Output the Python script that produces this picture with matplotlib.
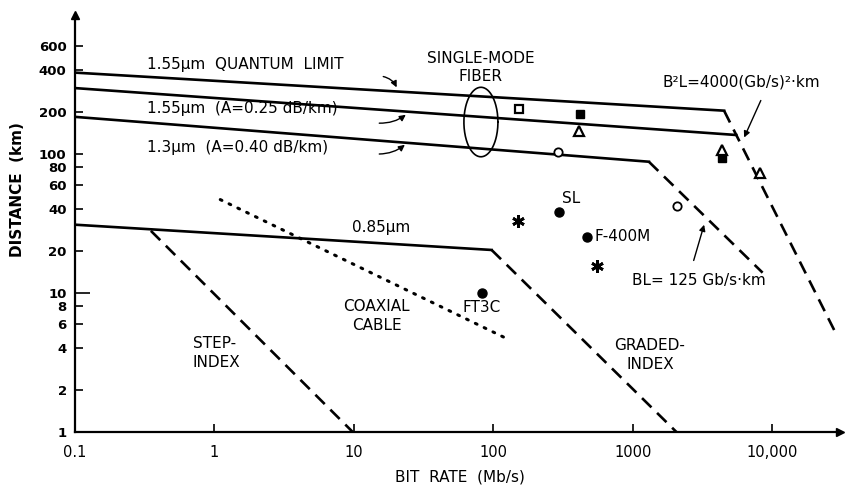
import numpy as np
import matplotlib
matplotlib.use("Agg")
import matplotlib.pyplot as plt

# ---- data (bit rate in Mb/s, distance in km) ----
qlim_rate = [0.1, 4500]          # 1.55 um quantum limit
qlim_dist = [385, 205]
b2l_rate = [4500, 28000]         # B^2 L = 4000 (Gb/s)^2 km
b2l_dist = [205, 5.3]
sm155_rate = [0.1, 5500]         # 1.55 um, A = 0.25 dB/km
sm155_dist = [298, 137]
sm13_rate = [0.1, 1300]          # 1.3 um, A = 0.40 dB/km
sm13_dist = [185, 88]
bl125_rate = [1300, 8500]        # BL = 125 Gb/s km
bl125_dist = [88, 14]
mm085_rate = [0.1, 97]           # 0.85 um
mm085_dist = [31, 20.4]
graded_rate = [97, 2050]         # graded-index limit
graded_dist = [20.4, 1]
step_rate = [0.35, 9.8]          # step-index limit
step_dist = [28, 1]
coax_rate = [1.1, 130]           # coaxial cable
coax_dist = [47, 4.6]

# experimental systems
open_sq_rate, open_sq_dist = [152], [211]
fill_sq_rate, fill_sq_dist = [417, 4350], [194, 93]
open_tri_rate, open_tri_dist = [410, 4350, 8100], [146, 107, 73]
open_ci_rate, open_ci_dist = [290, 2070], [103, 42]
fill_ci_rate, fill_ci_dist = [295, 468, 83], [38, 25.3, 10]
star_rate, star_dist = [150, 552], [33, 15.6]

xtick_vals = [0.1, 1, 10, 100, 1000, 10000]
xtick_labels = ["0.1", "1", "10", "100", "1000", "10,000"]
ytick_vals = [1, 2, 4, 6, 8, 10, 20, 40, 60, 80, 100, 200, 400, 600]
ytick_labels = [str(v) for v in ytick_vals]

plt.rcParams['font.family'] = ['DejaVu Sans']

fig = plt.figure(figsize=(8.48, 4.86), dpi=100)
ax = fig.add_axes([75 / 848, 54 / 486, 765 / 848, 417 / 486])
ax.set_xscale('log')
ax.set_yscale('log')
ax.set_xlim(0.1, 30500)
ax.set_ylim(1, 1000)

lw = 1.9
dash = (0, (5, 3))
ax.plot(qlim_rate, qlim_dist, color='k', lw=lw)
ax.plot(sm155_rate, sm155_dist, color='k', lw=lw)
ax.plot(sm13_rate, sm13_dist, color='k', lw=lw)
ax.plot(mm085_rate, mm085_dist, color='k', lw=lw)
ax.plot(b2l_rate, b2l_dist, color='k', lw=lw, ls=dash)
ax.plot(bl125_rate, bl125_dist, color='k', lw=lw, ls=dash)
ax.plot(graded_rate, graded_dist, color='k', lw=lw, ls=dash)
ax.plot(step_rate, step_dist, color='k', lw=lw, ls=dash)
ax.plot(coax_rate, coax_dist, color='k', lw=2.2, ls=(0, (0.6, 2.6)),
        dash_capstyle='round')

ax.plot(open_sq_rate, open_sq_dist, 's', ms=6, mfc='white', mec='k', mew=1.6)
ax.plot(fill_sq_rate, fill_sq_dist, 's', ms=6, color='k')
ax.plot(open_tri_rate, open_tri_dist, '^', ms=6.5, mfc='white', mec='k', mew=1.6)
ax.plot(open_ci_rate, open_ci_dist, 'o', ms=6, mfc='white', mec='k', mew=1.3)
ax.plot(fill_ci_rate, fill_ci_dist, 'o', ms=6.5, color='k')
ax.plot(star_rate, star_dist, marker=(6, 2, 0), ls='none', ms=9, color='k', mew=2)

# single-mode fiber ellipse (drawn in log space)
th = np.linspace(0, 2 * np.pi, 200)
ax.plot(10 ** (1.91 + 0.122 * np.cos(th)), 10 ** (2.23 + 0.25 * np.sin(th)),
        color='k', lw=1.2)

fs = 11
ax.text(0.33, 437, "1.55µm  QUANTUM  LIMIT", fontsize=fs, va='center')
ax.text(0.33, 214, "1.55µm  (A=0.25 dB/km)", fontsize=fs, va='center')
ax.text(0.33, 112, "1.3µm  (A=0.40 dB/km)", fontsize=fs, va='center')
ax.text(81, 420, "SINGLE-MODE\nFIBER", fontsize=fs, ha='center', va='center',
        linespacing=1.3)
ax.text(1640, 330, "B²L=4000(Gb/s)²·km", fontsize=fs, va='center')
ax.text(984, 12.4, "BL= 125 Gb/s·km", fontsize=fs, va='center')
ax.text(9.7, 29.4, "0.85µm", fontsize=fs, va='center')
ax.text(310, 48.2, "SL", fontsize=fs, va='center')
ax.text(534, 25.3, "F-400M", fontsize=fs, va='center')
ax.text(60.4, 7.8, "FT3C", fontsize=fs, va='center')
ax.text(14.6, 6.8, "COAXIAL\nCABLE", fontsize=fs, ha='center', va='center',
        linespacing=1.3)
ax.text(0.70, 3.7, "STEP-\nINDEX", fontsize=fs, va='center', linespacing=1.3)
ax.text(1325, 3.58, "GRADED-\nINDEX", fontsize=fs, ha='center', va='center',
        linespacing=1.3)

arrow = dict(arrowstyle='-|>', color='k', lw=1.0, mutation_scale=9)
ax.annotate("", xy=(20.6, 289), xytext=(15.5, 364),
            arrowprops=dict(arrow, connectionstyle='arc3,rad=-0.3'))
ax.annotate("", xy=(24.4, 197), xytext=(14.5, 167),
            arrowprops=dict(arrow, connectionstyle='arc3,rad=0.2'))
ax.annotate("", xy=(24.0, 120), xytext=(14.5, 100),
            arrowprops=dict(arrow, connectionstyle='arc3,rad=0.2'))
ax.annotate("", xy=(6150, 126), xytext=(8410, 253), arrowprops=arrow)
ax.annotate("", xy=(3280, 32.4), xytext=(2690, 16.4), arrowprops=arrow)

# axes: only left and bottom, with arrow heads
for s in ['top', 'right']:
    ax.spines[s].set_visible(False)
for s in ['left', 'bottom']:
    ax.spines[s].set_linewidth(1.6)
ax.plot(1, 0, '>k', ms=6, transform=ax.transAxes, clip_on=False)
ax.plot(0, 1, '^k', ms=6, transform=ax.transAxes, clip_on=False)

ax.set_xticks(xtick_vals)
ax.set_xticklabels(xtick_labels)
ax.set_yticks(ytick_vals)
ax.set_yticklabels(ytick_labels)
ax.minorticks_off()
ax.tick_params(axis='both', direction='in', length=6, width=1.2)
ax.tick_params(axis='x', pad=9, labelsize=10.5)
ax.tick_params(axis='y', pad=6, labelsize=9.5)
for lab in ax.get_yticklabels():
    lab.set_fontweight('bold')
ax.yaxis.get_major_ticks()[ytick_vals.index(10)].tick1line.set_markersize(11)

fig.text(460 / 848, 1 - 477 / 486, "BIT  RATE  (Mb/s)", fontsize=fs,
         ha='center', va='center')
fig.text(18 / 848, 1 - 190 / 486, "DISTANCE  (km)", fontsize=fs,
         ha='center', va='center', rotation=90, fontweight='bold')

fig.savefig("out.png", dpi=100)
